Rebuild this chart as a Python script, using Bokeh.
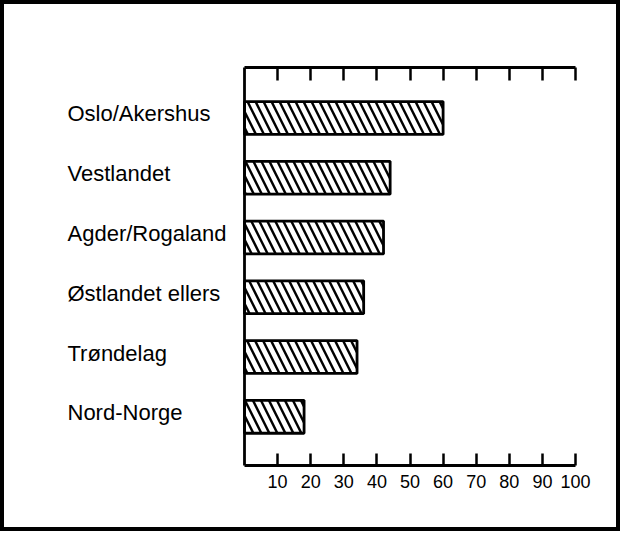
from bokeh.plotting import figure
from bokeh.models import (ColumnDataSource, Range1d, LinearAxis, FixedTicker,
                          LabelSet)
from bokeh.core.properties import value
from bokeh.embed import file_html
from bokeh.resources import INLINE

# ---- data ----
regions = ["Oslo/Akershus", "Vestlandet", "Agder/Rogaland",
           "Østlandet ellers", "Trøndelag", "Nord-Norge"]
values = [60, 44, 42, 36, 34, 18]
tick_values = [10, 20, 30, 40, 50, 60, 70, 80, 90, 100]

n = len(regions)
positions = [n - i for i in range(n)]  # first region at top

src = ColumnDataSource(dict(region=regions, value=values, y=positions))

FONT = "Liberation Sans"

# ---- layout (canvas pixels) ----
W, H = 620, 531
AX_L, AX_R = 244, 575          # x=0 and x=100 positions
AX_T, AX_B = 67, 465           # top / bottom axis lines
Y_LO, Y_HI = 0.185, n + 0.845  # data extent of the axis box

ppx = (AX_R - AX_L) / 100.0
ppy = (AX_B - AX_T) / (Y_HI - Y_LO)
x_range = Range1d(-AX_L / ppx, 100 + (W - AX_R) / ppx)
y_range = Range1d(Y_LO - (H - AX_B) / ppy, Y_HI + AX_T / ppy)

p = figure(width=W, height=H, output_backend="svg", toolbar_location=None,
           x_range=x_range, y_range=y_range,
           x_axis_type=None, y_axis_type=None,
           min_border=0)
p.outline_line_color = "black"
p.outline_line_width = 7
p.background_fill_color = "white"
p.border_fill_color = "white"

p.hbar(y="y", right="value", left=0, height=0.55, source=src,
       fill_color="white", line_color="black", line_width=2.8,
       hatch_pattern="left_diagonal_line", hatch_color="black",
       hatch_weight=2.4, hatch_scale=16)

# bottom axis with inward ticks and labels
bottom = LinearAxis(ticker=FixedTicker(ticks=tick_values),
                    fixed_location=Y_LO, bounds=(0, 100),
                    major_tick_in=12, major_tick_out=0,
                    minor_tick_line_color=None,
                    axis_line_width=2.8, major_tick_line_width=2.5,
                    major_label_standoff=9,
                    major_label_text_font=FONT,
                    major_label_text_font_size="18px",
                    major_label_text_color="black")
p.add_layout(bottom, "below")

# top axis with inward ticks, no labels
top = LinearAxis(ticker=FixedTicker(ticks=tick_values),
                 fixed_location=Y_HI, bounds=(0, 100),
                 major_tick_in=13, major_tick_out=0,
                 minor_tick_line_color=None,
                 axis_line_width=2.8, major_tick_line_width=2.5,
                 major_label_overrides={t: "" for t in tick_values},
                 major_label_standoff=0)
p.add_layout(top, "above")

# left axis: line only
left = LinearAxis(ticker=FixedTicker(ticks=[]),
                  fixed_location=0, bounds=(Y_LO, Y_HI),
                  major_tick_in=0, major_tick_out=0,
                  minor_tick_line_color=None,
                  axis_line_width=2.8, major_label_standoff=0)
p.add_layout(left, "left")

# category labels, left aligned
labels = LabelSet(x=67, x_units="screen", y="y", text="region", source=src,
                  text_font=value(FONT), text_font_size="22px",
                  text_color="black", text_align="left",
                  text_baseline="middle", y_offset=4)
p.add_layout(labels)

open("out.html", "w").write(file_html(p, INLINE))
